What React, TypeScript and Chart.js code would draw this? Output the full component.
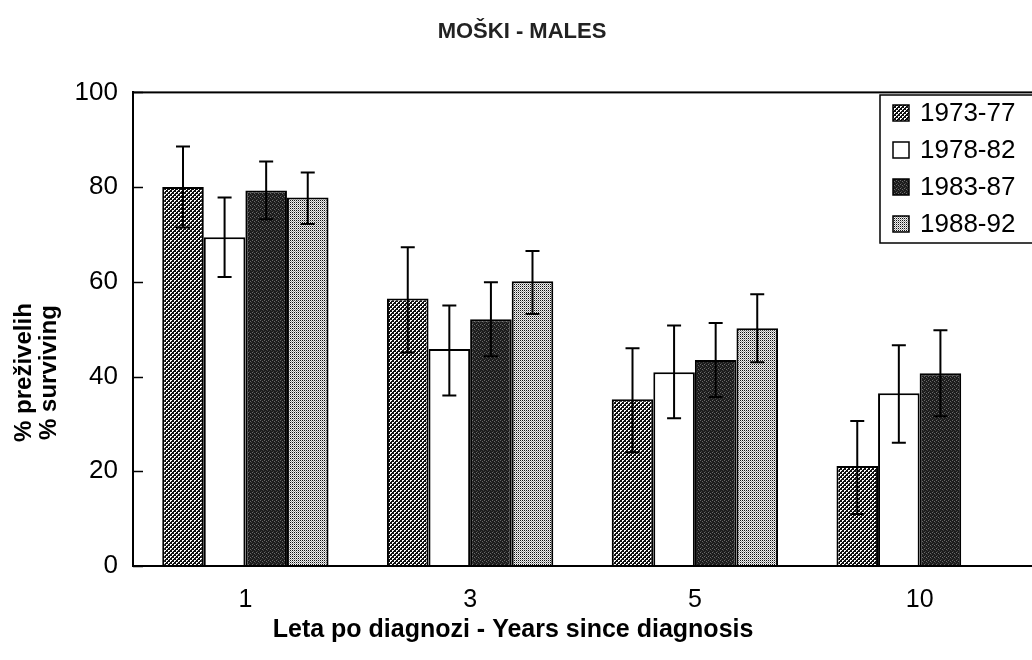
import React, { useEffect, useRef } from "react";
import { Chart, registerables } from "chart.js";

Chart.register(...registerables);

const categories = ["1", "3", "5", "10"];
const seriesLabels = ["1973-77", "1978-82", "1983-87", "1988-92"];
const values1973 = [80.0, 56.5, 35.2, 21.1];
const values1978 = [69.4, 45.8, 40.9, 36.5];
const values1983 = [79.3, 52.1, 43.5, 40.7];
const values1988 = [77.8, 60.1, 50.2, null];
const low1973 = [71.5, 45.1, 24.0, 11.0];
const high1973 = [88.6, 67.3, 46.0, 30.6];
const low1978 = [61.0, 36.0, 31.2, 26.0];
const high1978 = [77.8, 55.0, 50.8, 46.6];
const low1983 = [73.2, 44.3, 35.7, 31.6];
const high1983 = [85.4, 59.9, 51.3, 49.8];
const low1988 = [72.2, 53.2, 43.0, null];
const high1988 = [83.1, 66.5, 57.4, null];
const yTicks = [0, 20, 40, 60, 80, 100];

const FONT = "'Liberation Sans', Arial, sans-serif";

function makePattern(kind: string): CanvasPattern | string {
  const c = document.createElement("canvas");
  const size = kind === "dots" ? 2 : 4;
  c.width = size;
  c.height = size;
  const g = c.getContext("2d")!;
  if (kind === "cross") {
    g.fillStyle = "#ffffff";
    g.fillRect(0, 0, 4, 4);
    g.fillStyle = "#111111";
    for (let y = 0; y < 4; y++) {
      for (let x = 0; x < 4; x++) {
        if ((x + y) % 4 < 2 || (x - y + 4) % 4 === 0) g.fillRect(x, y, 1, 1);
      }
    }
  } else if (kind === "dark") {
    g.fillStyle = "#1c1c1c";
    g.fillRect(0, 0, 4, 4);
    g.fillStyle = "#6a6a6a";
    g.fillRect(0, 0, 1, 1);
    g.fillRect(2, 1, 1, 1);
    g.fillStyle = "#444444";
    g.fillRect(1, 3, 1, 1);
    g.fillRect(3, 2, 1, 1);
  } else {
    g.fillStyle = "#f0f0f0";
    g.fillRect(0, 0, 2, 2);
    g.fillStyle = "#111111";
    g.fillRect(0, 0, 1, 1);
    g.fillStyle = "#a0a0a0";
    g.fillRect(1, 1, 1, 1);
  }
  return g.createPattern(c, "repeat") || "#888";
}

export default function App() {
  const ref = useRef<HTMLCanvasElement | null>(null);

  useEffect(() => {
    const canvas = ref.current;
    if (!canvas) return;
    const fills = [makePattern("cross"), "#ffffff", makePattern("dark"), makePattern("dots")];
    const lows = [low1973, low1978, low1983, low1988];
    const highs = [high1973, high1978, high1983, high1988];
    const vals = [values1973, values1978, values1983, values1988];

    const errorBars = {
      id: "errorBars",
      afterDatasetsDraw(chart: any) {
        const ctx = chart.ctx;
        const ys = chart.scales.y;
        ctx.save();
        ctx.strokeStyle = "#000";
        ctx.lineWidth = 2;
        chart.data.datasets.forEach((_: any, di: number) => {
          const meta = chart.getDatasetMeta(di);
          meta.data.forEach((el: any, i: number) => {
            const lo = lows[di][i];
            const hi = highs[di][i];
            if (lo == null || hi == null) return;
            const x = el.x;
            const y1 = ys.getPixelForValue(hi);
            const y2 = ys.getPixelForValue(lo);
            ctx.beginPath();
            ctx.moveTo(x, y1);
            ctx.lineTo(x, y2);
            ctx.moveTo(x - 7, y1);
            ctx.lineTo(x + 7, y1);
            ctx.moveTo(x - 7, y2);
            ctx.lineTo(x + 7, y2);
            ctx.stroke();
          });
        });
        ctx.restore();
      },
    };

    const frame = {
      id: "frame",
      afterDraw(chart: any) {
        const ctx = chart.ctx;
        const a = chart.chartArea;
        const ys = chart.scales.y;
        ctx.save();
        ctx.strokeStyle = "#000";
        ctx.lineWidth = 2;
        ctx.strokeRect(a.left, a.top, a.right - a.left + 6, a.bottom - a.top);
        ctx.lineWidth = 1.5;
        yTicks.forEach((t) => {
          const y = Math.round(ys.getPixelForValue(t)) + 0.5;
          ctx.beginPath();
          ctx.moveTo(a.left, y);
          ctx.lineTo(a.left + 10, y);
          ctx.stroke();
        });
        // legend inside plot
        const lx = 880;
        const ly = 95;
        const lw = 170;
        const lh = 148;
        ctx.fillStyle = "#fff";
        ctx.fillRect(lx, ly, lw, lh);
        ctx.lineWidth = 1.5;
        ctx.strokeRect(lx, ly, lw, lh);
        ctx.font = `26px ${FONT}`;
        ctx.textBaseline = "middle";
        chart.data.datasets.forEach((ds: any, i: number) => {
          const cy = ly + 18 + i * 37;
          ctx.fillStyle = ds.backgroundColor;
          ctx.fillRect(lx + 13, cy - 8, 16, 16);
          ctx.strokeStyle = "#000";
          ctx.lineWidth = 1.5;
          ctx.strokeRect(lx + 13, cy - 8, 16, 16);
          ctx.fillStyle = "#000";
          ctx.fillText(ds.label, lx + 40, cy + 1);
        });
        ctx.restore();
      },
    };

    const yPad = " ".repeat(13);
    const xPad = " ".repeat(20);

    const chart = new Chart(canvas, {
      type: "bar",
      data: {
        labels: categories,
        datasets: seriesLabels.map((label, i) => ({
          label,
          data: vals[i] as any,
          backgroundColor: fills[i] as any,
          borderColor: "#000",
          borderWidth: 2,
          borderSkipped: "bottom" as any,
        })),
      },
      options: {
        animation: false,
        responsive: false,
        maintainAspectRatio: false,
        layout: { padding: { left: 12, right: 0, top: 0, bottom: 0 } },
        datasets: { bar: { categoryPercentage: 0.74, barPercentage: 1 } },
        plugins: {
          legend: { display: false },
          tooltip: { enabled: false },
          title: {
            display: true,
            text: "MOŠKI - MALES",
            color: "#222",
            font: { family: FONT, size: 22, weight: "bold", lineHeight: 1.2 },
            padding: { top: 19, bottom: 47 },
          },
        },
        scales: {
          x: {
            afterFit(scale: any) {
              scale.height = 94;
            },
            grid: { display: false, drawTicks: false },
            border: { display: true, color: "#000", width: 2 },
            ticks: { color: "#000", font: { family: FONT, size: 25, lineHeight: 1.2 }, padding: 19 },
            title: {
              display: true,
              text: "Leta po diagnozi - Years since diagnosis" + xPad,
              color: "#000",
              font: { family: FONT, size: 25, weight: "bold", lineHeight: 1.2 },
              padding: { top: 0, bottom: 15 },
            },
          },
          y: {
            min: 0,
            max: 100,
            afterFit(scale: any) {
              scale.width = 121;
            },
            afterBuildTicks(scale: any) {
              scale.ticks = yTicks.map((v) => ({ value: v }));
            },
            grid: { display: false, drawTicks: false },
            border: { display: true, color: "#000", width: 2 },
            ticks: { color: "#000", font: { family: FONT, size: 26 }, padding: 15 },
            title: {
              display: true,
              text: ["% preživelih" + yPad, "% surviving" + yPad],
              color: "#000",
              font: { family: FONT, size: 24, weight: "bold", lineHeight: 1.05 },
              padding: { top: 0, bottom: 2 },
            },
          },
        },
      },
      plugins: [errorBars, frame],
    });
    return () => chart.destroy();
  }, []);

  return (
    <div style={{ position: "fixed", left: 0, top: 0, width: 1032, height: 660, background: "#fff" }}>
      <canvas ref={ref} width={1032} height={660} style={{ width: 1032, height: 660, display: "block" }} />
    </div>
  );
}
